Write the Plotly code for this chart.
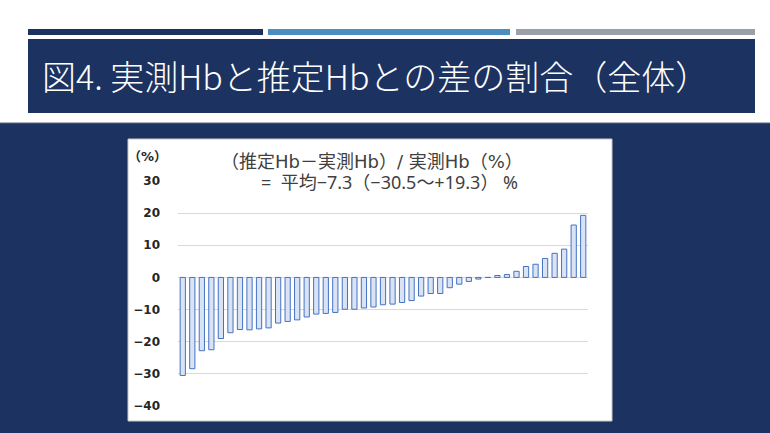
import plotly.graph_objects as go

W, H = 770, 433

# difference ratio (estimated - measured) / measured, sorted, in %
case_no = list(range(1, 44))
diff_pct = [-30.5, -28.4, -22.8, -22.5, -19.0, -17.2, -16.2, -16.3, -16.0, -15.7,
            -14.2, -13.7, -13.2, -12.3, -11.4, -11.2, -10.9, -9.9, -9.9, -9.5,
            -9.2, -8.5, -8.3, -7.8, -7.2, -5.8, -5.0, -5.0, -3.2, -2.1,
            -1.25, -0.5, 0.0, 0.6, 0.9, 1.9, 3.4, 4.1, 5.9, 7.5,
            8.8, 16.3, 19.3]
y_ticks = [-40, -30, -20, -10, 0, 10, 20, 30]

slide_title = "図4. 実測Hbと推定Hbとの差の割合（全体）"
chart_line1 = "（推定Hb－実測Hb）/ 実測Hb（%）"
chart_line2 = "=  平均−7.3（−30.5～+19.3） %"

NAVY = "#1c3260"
FONT = "Noto Sans CJK JP"
MIXED = "DejaVu Sans, Noto Sans CJK JP"


def px(x):
    return x / W


def py(y):
    return 1 - y / H


def rect(x0, y0, x1, y1, fill, line=None, lw=0):
    return dict(type="rect", xref="paper", yref="paper",
                x0=px(x0), x1=px(x1), y0=py(y1), y1=py(y0),
                fillcolor=fill, line=dict(color=line or fill, width=lw),
                layer="below")


shapes = [
    rect(28, 29, 263, 35, NAVY),
    rect(268, 29, 510, 35, "#4a8fc0"),
    rect(516, 29, 755, 35, "#9aa0a8"),
    rect(28, 39, 755, 113, NAVY),
    rect(-2, 123, 772, 435, NAVY, "#5a6478", 1),
    rect(128, 139, 612, 421, "white", "#c8c8c8", 1),
]

fig = go.Figure(go.Bar(
    x=case_no, y=diff_pct,
    marker=dict(color="#dae3f3", line=dict(color="#4472c4", width=1)),
))

fig.update_layout(
    width=W, height=H,
    margin=dict(l=0, r=0, t=0, b=0, autoexpand=False),
    paper_bgcolor="white",
    plot_bgcolor="rgba(0,0,0,0)",
    showlegend=False,
    bargap=0.45,
    shapes=shapes,
    font=dict(family=FONT, color="#404040"),
    xaxis=dict(domain=[px(178), px(588)], range=[0.5, 43.5],
               showticklabels=False, showgrid=False, zeroline=False,
               ticks="", automargin=False),
    yaxis=dict(domain=[py(406), py(181)], range=[-40, 30],
               tickvals=y_ticks, showgrid=True, gridcolor="#d9d9d9",
               gridwidth=1, zeroline=False, ticks="", automargin=False,
               ticklabelstandoff=17,
               tickfont=dict(size=12, color="#262626", family=MIXED,
                             weight="bold")),
    annotations=[
        dict(text=slide_title, xref="paper", yref="paper",
             x=px(40), y=py(76), xanchor="left", yanchor="middle",
             showarrow=False,
             font=dict(size=34, color="white", family=FONT, weight=300)),
        dict(text="（%）", xref="paper", yref="paper",
             x=px(147), y=py(156), xanchor="center", yanchor="middle",
             showarrow=False,
             font=dict(size=13, color="#262626", family=MIXED,
                       weight="bold")),
        dict(text=chart_line1, xref="paper", yref="paper",
             x=px(372), y=py(161), xanchor="center", yanchor="middle",
             showarrow=False,
             font=dict(size=18, color="#404040", family=MIXED)),
        dict(text=chart_line2, xref="paper", yref="paper",
             x=px(389), y=py(182), xanchor="center", yanchor="middle",
             showarrow=False,
             font=dict(size=18, color="#404040",
                       family="Noto Sans, Noto Sans CJK JP")),
    ],
)

fig.write_html("out.html",
               config={"displayModeBar": False},
               post_script="var d=document.getElementById('{plot_id}');"
                           "d.style.position='fixed';d.style.top='0';"
                           "d.style.left='0';"
                           "document.body.style.margin='0';"
                           "document.body.style.overflow='hidden';")
